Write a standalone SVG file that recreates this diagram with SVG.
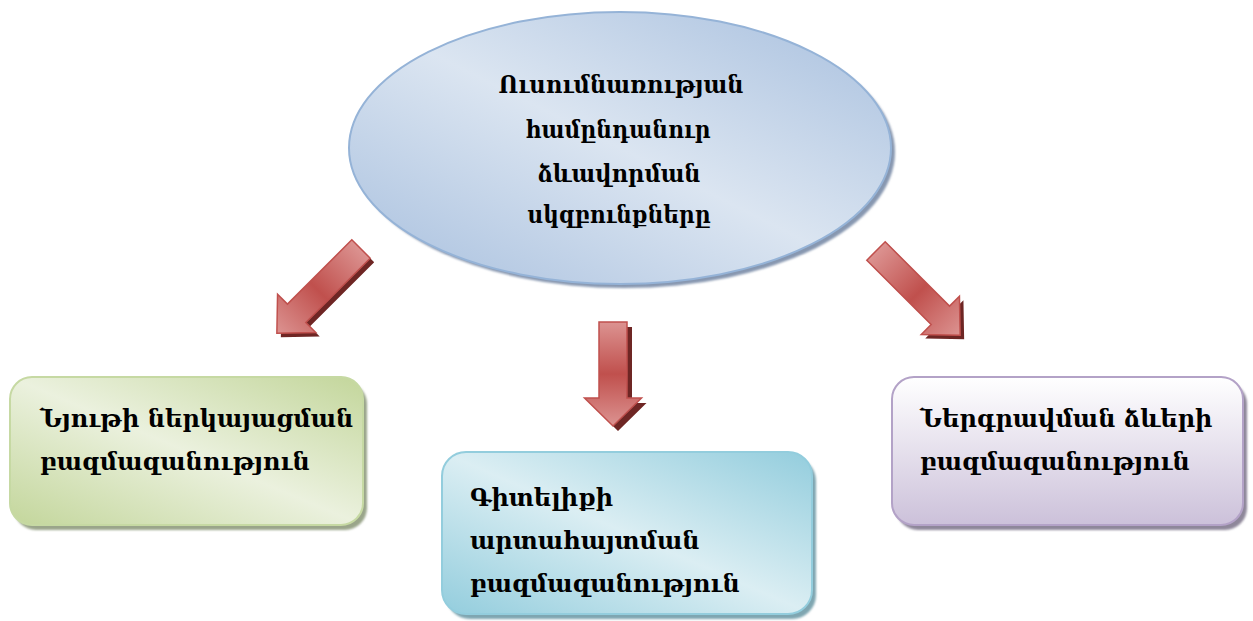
<svg xmlns="http://www.w3.org/2000/svg" xmlns:xlink="http://www.w3.org/1999/xlink" width="1253" height="621" viewBox="0 0 1253 621">
<style>
.t{font-family:"DejaVu Serif","Liberation Serif",serif;font-weight:bold;font-size:24px;fill:#000}
.c{text-anchor:middle}
.ar{fill:url(#gArrow);stroke:#c0504d;stroke-width:1.5}
.ash{fill:#6e2624}
</style>
<defs>
<linearGradient id="gEll" x1="1" y1="0" x2="0" y2="1">
<stop offset="0" stop-color="#a7bfde"/><stop offset="0.5" stop-color="#dbe5f1"/><stop offset="1" stop-color="#a7bfde"/>
</linearGradient>
<linearGradient id="gGreen" x1="1" y1="0" x2="0" y2="1">
<stop offset="0" stop-color="#c3d69b"/><stop offset="0.5" stop-color="#ebf1de"/><stop offset="1" stop-color="#c3d69b"/>
</linearGradient>
<linearGradient id="gBlue" x1="1" y1="0" x2="0" y2="1">
<stop offset="0" stop-color="#93cddd"/><stop offset="0.5" stop-color="#dbeef3"/><stop offset="1" stop-color="#93cddd"/>
</linearGradient>
<linearGradient id="gPurple" x1="0" y1="0" x2="0" y2="1">
<stop offset="0" stop-color="#ffffff"/><stop offset="1" stop-color="#ccc1da"/>
</linearGradient>
<linearGradient id="gArrow" x1="0" y1="0" x2="0" y2="1">
<stop offset="0" stop-color="#dc9391"/><stop offset="0.5" stop-color="#c0504d"/><stop offset="1" stop-color="#dc9391"/>
</linearGradient>
<filter id="blur" x="-5%" y="-5%" width="110%" height="110%"><feGaussianBlur stdDeviation="1"/></filter>
<path id="aLong" d="M-13,0 L13,0 L13,91 L27,91 L0,119 L-27,91 L-13,91 Z"/>
<path id="aShort" d="M-14,0 L14,0 L14,76 L28.5,76 L0,104 L-28.5,76 L-14,76 Z"/>
</defs>

<g id="center">
<ellipse cx="624" cy="152" rx="271" ry="136" fill="#8797b0" filter="url(#blur)"/>
<ellipse cx="620" cy="148" rx="271" ry="136" fill="url(#gEll)" stroke="#95b3d7" stroke-width="2"/>
<text class="t c" x="621" y="93" textLength="245" lengthAdjust="spacingAndGlyphs">Ուսումնառության</text>
<text class="t c" x="618" y="138" textLength="185" lengthAdjust="spacingAndGlyphs">համընդանուր</text>
<text class="t c" x="619" y="182" textLength="163" lengthAdjust="spacingAndGlyphs">ձևավորման</text>
<text class="t c" x="619" y="223" textLength="183" lengthAdjust="spacingAndGlyphs">սկզբունքները</text>
</g>

<g id="connectors">
<g transform="translate(4,4)"><use xlink:href="#aLong" class="ash" transform="translate(361,249) rotate(45)"/></g>
<use xlink:href="#aLong" class="ar" transform="translate(361,249) rotate(45)"/>
<g transform="translate(5,5)"><use xlink:href="#aShort" class="ash" transform="translate(613,322)"/></g>
<use xlink:href="#aShort" class="ar" transform="translate(613,322)"/>
<g transform="translate(4,4)"><use xlink:href="#aLong" class="ash" transform="translate(876,251) rotate(-45)"/></g>
<use xlink:href="#aLong" class="ar" transform="translate(876,251) rotate(-45)"/>
</g>

<g id="box-left">
<rect x="14" y="382" width="353" height="148" rx="22" fill="#9aa58a" filter="url(#blur)"/>
<rect x="10" y="377" width="353" height="148" rx="22" fill="url(#gGreen)" stroke="#c6d9a3" stroke-width="2"/>
<text class="t" x="40" y="427">Նյութի ներկայացման</text>
<text class="t" x="40" y="470">բազմազանություն</text>
</g>

<g id="box-middle">
<rect x="446" y="457" width="370" height="162" rx="24" fill="#7fa6b1" filter="url(#blur)"/>
<rect x="442" y="452" width="370" height="162" rx="24" fill="url(#gBlue)" stroke="#93cddd" stroke-width="2"/>
<text class="t" x="470" y="506">Գիտելիքի</text>
<text class="t" x="470" y="549">արտահայտման</text>
<text class="t" x="470" y="592">բազմազանություն</text>
</g>

<g id="box-right">
<rect x="896" y="382" width="351" height="148" rx="22" fill="#8e879a" filter="url(#blur)"/>
<rect x="892" y="377" width="351" height="148" rx="22" fill="url(#gPurple)" stroke="#b3a2c7" stroke-width="2"/>
<text class="t" x="920" y="427">Ներգրավման ձևերի</text>
<text class="t" x="920" y="470">բազմազանություն</text>
</g>
</svg>
